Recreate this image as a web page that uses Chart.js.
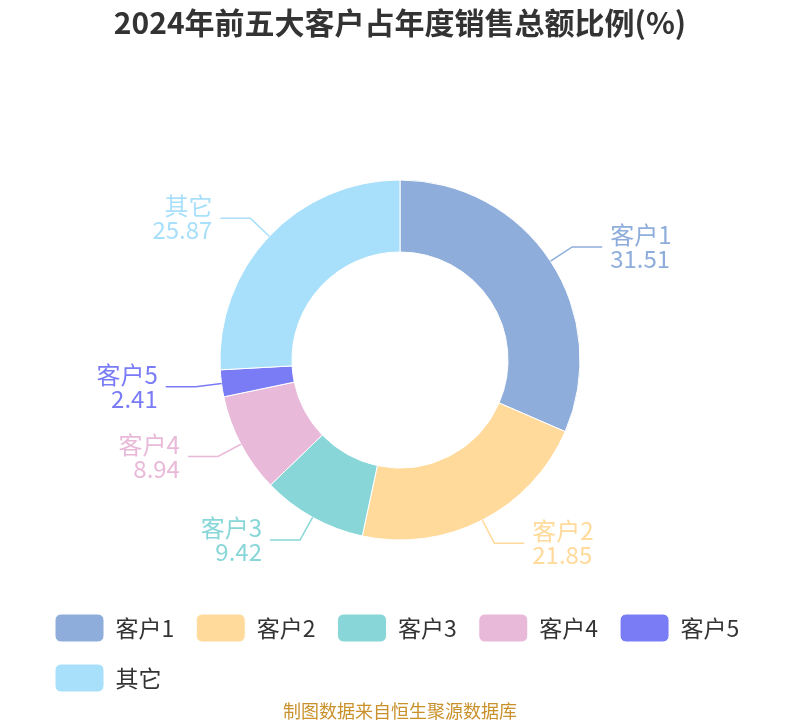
<!DOCTYPE html>
<html>
<head>
<meta charset="utf-8">
<script src="https://cdn.jsdelivr.net/npm/chart.js@4/dist/chart.umd.min.js"></script>
<style>
  html, body { margin: 0; padding: 0; background: #fff; }
  #wrap { width: 800px; height: 720px; }
</style>
</head>
<body>
<div id="wrap"><canvas id="myChart" width="800" height="720"></canvas></div>
<script>
// data
const labels = ["客户1", "客户2", "客户3", "客户4", "客户5", "其它"];
const values = [31.51, 21.85, 9.42, 8.94, 2.41, 25.87];
const colors = ["#8EADDB", "#FFDA9B", "#88D6D8", "#E8B9D8", "#7A7CF5", "#A8DFFA"];

const FONT = "'Noto Sans CJK SC', 'Noto Sans', sans-serif";

// leader lines + two-line labels outside each slice
const outerLabels = {
  id: "outerLabels",
  afterDatasetsDraw(chart) {
    const ctx = chart.ctx;
    const meta = chart.getDatasetMeta(0);
    ctx.save();
    ctx.font = "24px " + FONT;
    ctx.textBaseline = "middle";
    meta.data.forEach((arc, i) => {
      const p = arc.getProps(["x", "y", "startAngle", "endAngle", "outerRadius"], true);
      const mid = (p.startAngle + p.endAngle) / 2;
      const cos = Math.cos(mid), sin = Math.sin(mid);
      const x1 = p.x + cos * p.outerRadius, y1 = p.y + sin * p.outerRadius;
      const x2 = p.x + cos * (p.outerRadius + 26), y2 = p.y + sin * (p.outerRadius + 26);
      const right = cos >= 0;
      const x3 = x2 + (right ? 30 : -30);
      ctx.strokeStyle = colors[i];
      ctx.lineWidth = 1.5;
      ctx.beginPath();
      ctx.moveTo(x1, y1);
      ctx.lineTo(x2, y2);
      ctx.lineTo(x3, y2);
      ctx.stroke();
      ctx.fillStyle = colors[i];
      ctx.textAlign = right ? "left" : "right";
      const tx = x3 + (right ? 8 : -8);
      ctx.fillText(labels[i], tx, y2 - 12);
      ctx.fillText(values[i].toFixed(2), tx, y2 + 12);
    });
    ctx.restore();
  }
};

window.addEventListener("load", function () {
  const data = {
    labels: labels,
    datasets: [
      {
        data: values,
        backgroundColor: colors,
        borderColor: "#ffffff",
        borderWidth: 1,
        radius: 180,
      },
    ],
  };

  const config = {
    type: "doughnut",
    data,
    options: {
      responsive: false,
      animation: false,
      cutout: "60%",
      layout: { padding: { left: 33, right: 33, top: 0, bottom: 0 } },
      plugins: {
        title: {
          display: true,
          text: "2024年前五大客户占年度销售总额比例(%)",
          color: "#333333",
          font: { family: FONT, size: 30, weight: "bold", lineHeight: 1.2 },
          padding: { top: 5, bottom: 87 },
        },
        subtitle: {
          display: true,
          position: "bottom",
          text: "制图数据来自恒生聚源数据库",
          color: "#C9912B",
          font: { family: FONT, size: 18, lineHeight: 1 },
          padding: 0,
        },
        legend: {
          position: "bottom",
          align: "start",
          labels: {
            boxWidth: 49,
            boxHeight: 28,
            padding: 22,
            color: "#333333",
            useBorderRadius: true,
            borderRadius: 6,
            font: { family: FONT, size: 23 },
          },
        },
        tooltip: { enabled: false },
      },
    },
    plugins: [outerLabels],
  };

  const myChart = new Chart(document.getElementById("myChart"), config);
});
</script>
</body>
</html>
